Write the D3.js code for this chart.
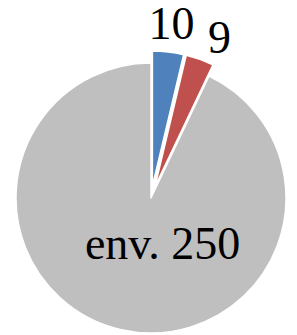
<!DOCTYPE html>
<html><head><meta charset="utf-8">
<script src="https://cdn.jsdelivr.net/npm/d3@7"></script>
<style>html,body{margin:0;padding:0;background:#fff;}</style>
</head><body>
<script>
const categories = ["A", "B", "C"];
const values = [10, 9, 250];
const labels = ["10", "9", "env. 250"];
const colors = ["#4F81BD", "#C0504D", "#BFBFBF"];

const W = 297, H = 335;
const cx = 151, cy = 198, R = 135;
const explode = [12, 12, 0];
const labelRadius = [176, 176, 47];
const labelNudge = [[0, 0], [10, 5], [22, 0]];

const svg = d3.select("body").append("svg").attr("width", W).attr("height", H);
const g = svg.append("g").attr("transform", `translate(${cx},${cy})`);

const pie = d3.pie().sort(null).value(d => d).startAngle(0).endAngle(2 * Math.PI);
const arcs = pie(values);
const arc = d3.arc().innerRadius(0).outerRadius(R);

arcs.forEach((a, i) => {
  const mid = (a.startAngle + a.endAngle) / 2;
  const dx = explode[i] * Math.sin(mid), dy = -explode[i] * Math.cos(mid);
  g.append("path")
    .attr("d", arc(a))
    .attr("transform", `translate(${dx},${dy})`)
    .attr("fill", colors[i])
    .attr("stroke", "#fff")
    .attr("stroke-width", 1.5)
    .attr("stroke-linejoin", "round");
});

arcs.forEach((a, i) => {
  const mid = (a.startAngle + a.endAngle) / 2;
  const x = labelRadius[i] * Math.sin(mid) + labelNudge[i][0];
  const y = -labelRadius[i] * Math.cos(mid) + labelNudge[i][1];
  g.append("text")
    .attr("x", x).attr("y", y).attr("dy", "0.34em")
    .attr("text-anchor", "middle")
    .attr("font-family", "'Liberation Serif','Times New Roman',serif")
    .attr("font-size", 46)
    .attr("fill", "#000")
    .text(labels[i]);
});
</script>
</body></html>
